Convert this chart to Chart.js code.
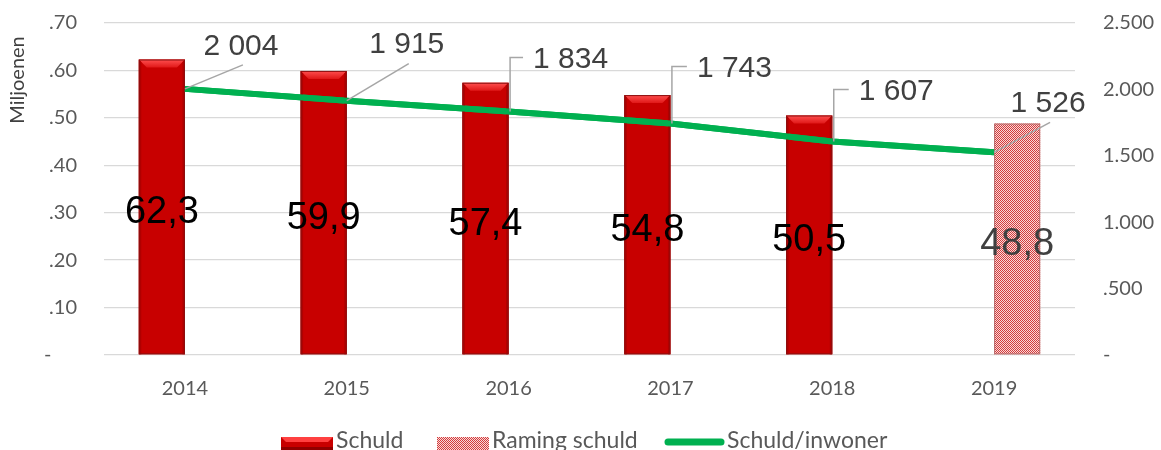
<!DOCTYPE html>
<html>
<head>
<meta charset="utf-8">
<script src="https://cdn.jsdelivr.net/npm/chart.js@4"></script>
<style>
  html, body { margin: 0; padding: 0; background: #fff; }
  #wrap { width: 1161px; height: 450px; position: relative; }
</style>
</head>
<body>
<div id="wrap"><canvas id="schuldChart"></canvas></div>
<script>
// data
const years = ["2014", "2015", "2016", "2017", "2018", "2019"];
const schuld = [62.3, 59.9, 57.4, 54.8, 50.5, null];
const ramingSchuld = [null, null, null, null, null, 48.8];
const schuldPerInwoner = [2004, 1915, 1834, 1743, 1607, 1526];
const leftTicks = [0, 10, 20, 30, 40, 50, 60, 70];
const rightTicks = [0, 500, 1000, 1500, 2000, 2500];

// label placement (pixels, relative to the line point)
const labelOffsets = [[56, -45], [60, -58], [62, -54], [64, -57], [64, -52], [54, -51]];
const leaderElbow = [false, false, true, true, true, false];

Chart.defaults.font.family = "Lato, 'Open Sans', sans-serif";
Chart.defaults.font.size = 19;
Chart.defaults.color = "#595959";

// checker pattern for the estimate bar
function makePattern(ctx) {
    const c = document.createElement("canvas");
    c.width = 2; c.height = 2;
    const p = c.getContext("2d");
    p.fillStyle = "#f8dada";
    p.fillRect(0, 0, 2, 2);
    p.fillStyle = "#d43c3c";
    p.fillRect(0, 0, 1, 1);
    p.fillRect(1, 1, 1, 1);
    return ctx.createPattern(c, "repeat");
}

function fmtThousands(v) {
    return String(v).replace(/\B(?=(\d{3})+(?!\d))/g, " ");
}

function drawBevel(ctx, x0, x1, top, bottom, b) {
    const g = ctx.createLinearGradient(0, top, 0, top + b);
    g.addColorStop(0, "#ff5050");
    g.addColorStop(1, "#e01818");
    ctx.fillStyle = g;
    ctx.beginPath();
    ctx.moveTo(x0, top); ctx.lineTo(x1, top);
    ctx.lineTo(x1 - b, top + b); ctx.lineTo(x0 + b, top + b);
    ctx.closePath(); ctx.fill();
    // side strips
    ctx.fillStyle = "#b00000";
    ctx.beginPath();
    ctx.moveTo(x0, top); ctx.lineTo(x0 + 2.5, top + 2.5);
    ctx.lineTo(x0 + 2.5, bottom); ctx.lineTo(x0, bottom);
    ctx.closePath(); ctx.fill();
    ctx.beginPath();
    ctx.moveTo(x1, top); ctx.lineTo(x1 - 2.5, top + 2.5);
    ctx.lineTo(x1 - 2.5, bottom); ctx.lineTo(x1, bottom);
    ctx.closePath(); ctx.fill();
    ctx.strokeStyle = "#8a1010";
    ctx.lineWidth = 1;
    ctx.strokeRect(x0 + 0.5, top + 0.5, x1 - x0 - 1, bottom - top - 1);
}

const decorPlugin = {
    id: "decor",
    afterDatasetsDraw(chart) {
        const ctx = chart.ctx;
        ctx.save();
        // bevel on the Schuld bars, border on the estimate bar
        chart.data.datasets.forEach((ds, di) => {
            const meta = chart.getDatasetMeta(di);
            if (meta.type !== "bar") return;
            meta.data.forEach((el, i) => {
                if (ds.data[i] == null) return;
                const x0 = el.x - el.width / 2, x1 = el.x + el.width / 2;
                if (ds.label === "Schuld") {
                    drawBevel(ctx, x0, x1, el.y, el.base, 8);
                } else {
                    ctx.strokeStyle = "#b87070";
                    ctx.lineWidth = 1;
                    ctx.strokeRect(x0 + 0.5, el.y + 0.5, x1 - x0 - 1, el.base - el.y - 1);
                }
            });
        });
        // redraw line above bevels
        const lineMeta = chart.getDatasetMeta(0);
        lineMeta.dataset.draw(ctx, chart.chartArea);

        // values inside the bars
        ctx.textAlign = "center";
        ctx.textBaseline = "alphabetic";
        ctx.font = "38px 'Liberation Sans', Arial, sans-serif";
        chart.data.datasets.forEach((ds, di) => {
            const meta = chart.getDatasetMeta(di);
            if (meta.type !== "bar") return;
            meta.data.forEach((el, i) => {
                const v = ds.data[i];
                if (v == null) return;
                ctx.fillStyle = ds.label === "Schuld" ? "#000000" : "#404040";
                const mid = (el.y + el.base) / 2;
                ctx.fillText(v.toFixed(1).replace(".", ","), el.x, mid + 16);
            });
        });

        // line labels with leader lines
        ctx.font = "30px 'Liberation Sans', Arial, sans-serif";
        lineMeta.data.forEach((pt, i) => {
            const txt = fmtThousands(schuldPerInwoner[i]);
            const cx = pt.x + labelOffsets[i][0];
            const cy = pt.y + labelOffsets[i][1];
            const w = ctx.measureText(txt).width;
            ctx.strokeStyle = "#a6a6a6";
            ctx.lineWidth = 1.5;
            ctx.beginPath();
            if (leaderElbow[i]) {
                ctx.moveTo(pt.x + 1.5, pt.y);
                ctx.lineTo(pt.x + 1.5, cy);
                ctx.lineTo(cx - w / 2 - 10, cy);
            } else {
                ctx.moveTo(pt.x, pt.y);
                ctx.lineTo(cx + 2, cy + 21);
            }
            ctx.stroke();
            ctx.fillStyle = "#404040";
            ctx.fillText(txt, cx, cy + 10.7);
        });

        // y-axis title
        ctx.save();
        ctx.translate(18, 80);
        ctx.rotate(-Math.PI / 2);
        ctx.font = "20px Lato, sans-serif";
        ctx.fillStyle = "#404040";
        ctx.textAlign = "center";
        ctx.textBaseline = "middle";
        ctx.fillText("Miljoenen", 0, 0);
        ctx.restore();

        // legend
        const ly = 437, lh = 13;
        ctx.fillStyle = "#c80000";
        ctx.fillRect(281, ly, 52, lh);
        ctx.fillStyle = "#ff4040";
        ctx.beginPath();
        ctx.moveTo(281, ly); ctx.lineTo(333, ly); ctx.lineTo(328, ly + 5); ctx.lineTo(286, ly + 5);
        ctx.closePath(); ctx.fill();
        ctx.fillStyle = "#900000";
        ctx.fillRect(281, ly + lh - 3, 52, 3);
        ctx.fillStyle = chart.data.datasets[2].backgroundColor;
        ctx.fillRect(437, ly, 52, lh);
        ctx.strokeStyle = "#00b050";
        ctx.lineWidth = 7;
        ctx.lineCap = "round";
        ctx.beginPath();
        ctx.moveTo(668, 442); ctx.lineTo(721, 442);
        ctx.stroke();
        ctx.font = "23px Lato, sans-serif";
        ctx.fillStyle = "#595959";
        ctx.textAlign = "left";
        ctx.textBaseline = "alphabetic";
        ctx.fillText("Schuld", 336, 448);
        ctx.fillText("Raming schuld", 492, 448);
        ctx.fillText("Schuld/inwoner", 727, 448);
        ctx.restore();
    }
};

// vertical axes: keep tick padding from pushing the plot area down
function fixVertical(width) {
    return function(scale) {
        scale.width = width;
        scale.paddingTop = 0;
        scale.paddingBottom = 0;
    };
}

document.addEventListener("DOMContentLoaded", function() {
    const canvas = document.getElementById("schuldChart");
    const ctx = canvas.getContext("2d");
    const pattern = makePattern(ctx);

    new Chart(ctx, {
        type: "bar",
        data: {
            labels: years,
            datasets: [
                {
                    type: "line",
                    label: "Schuld/inwoner",
                    data: schuldPerInwoner,
                    yAxisID: "y1",
                    borderColor: "#00b050",
                    backgroundColor: "#00b050",
                    borderWidth: 6,
                    pointRadius: 0,
                    tension: 0,
                    order: 0
                },
                {
                    label: "Schuld",
                    data: schuld,
                    yAxisID: "y",
                    backgroundColor: "#c80000",
                    barPercentage: 1,
                    categoryPercentage: 0.57,
                    order: 1
                },
                {
                    label: "Raming schuld",
                    data: ramingSchuld,
                    yAxisID: "y",
                    backgroundColor: pattern,
                    barPercentage: 1,
                    categoryPercentage: 0.57,
                    order: 2
                }
            ]
        },
        options: {
            responsive: true,
            maintainAspectRatio: false,
            animation: false,
            layout: { padding: { top: 23, left: 0, right: 0, bottom: 0 } },
            plugins: {
                legend: { display: false },
                tooltip: { enabled: false }
            },
            scales: {
                x: {
                    grid: { display: false, drawTicks: false },
                    border: { display: false },
                    ticks: { padding: 22, color: "#595959", font: { size: 20 } },
                    afterFit(scale) { scale.height = 95; }
                },
                y: {
                    position: "left",
                    min: 0,
                    max: 70,
                    afterBuildTicks(scale) { scale.ticks = leftTicks.map(v => ({ value: v })); },
                    grid: { color: "#d9d9d9", lineWidth: 1.3, drawTicks: false },
                    border: { display: false },
                    ticks: {
                        padding: 27,
                        font: { size: 20 },
                        callback: v => v === 0 ? "-     " : "." + String(v).padStart(2, "0")
                    },
                    afterFit: fixVertical(104)
                },
                y1: {
                    position: "right",
                    min: 0,
                    max: 2500,
                    afterBuildTicks(scale) { scale.ticks = rightTicks.map(v => ({ value: v })); },
                    grid: { display: false, drawTicks: false },
                    border: { display: false },
                    ticks: {
                        padding: 28,
                        font: { size: 20 },
                        callback: v => v === 0 ? "-" : (v >= 1000 ? Math.floor(v / 1000) : "") + "." + String(v % 1000).padStart(3, "0")
                    },
                    afterFit: fixVertical(86)
                }
            }
        },
        plugins: [decorPlugin]
    });
});
</script>
</body>
</html>
